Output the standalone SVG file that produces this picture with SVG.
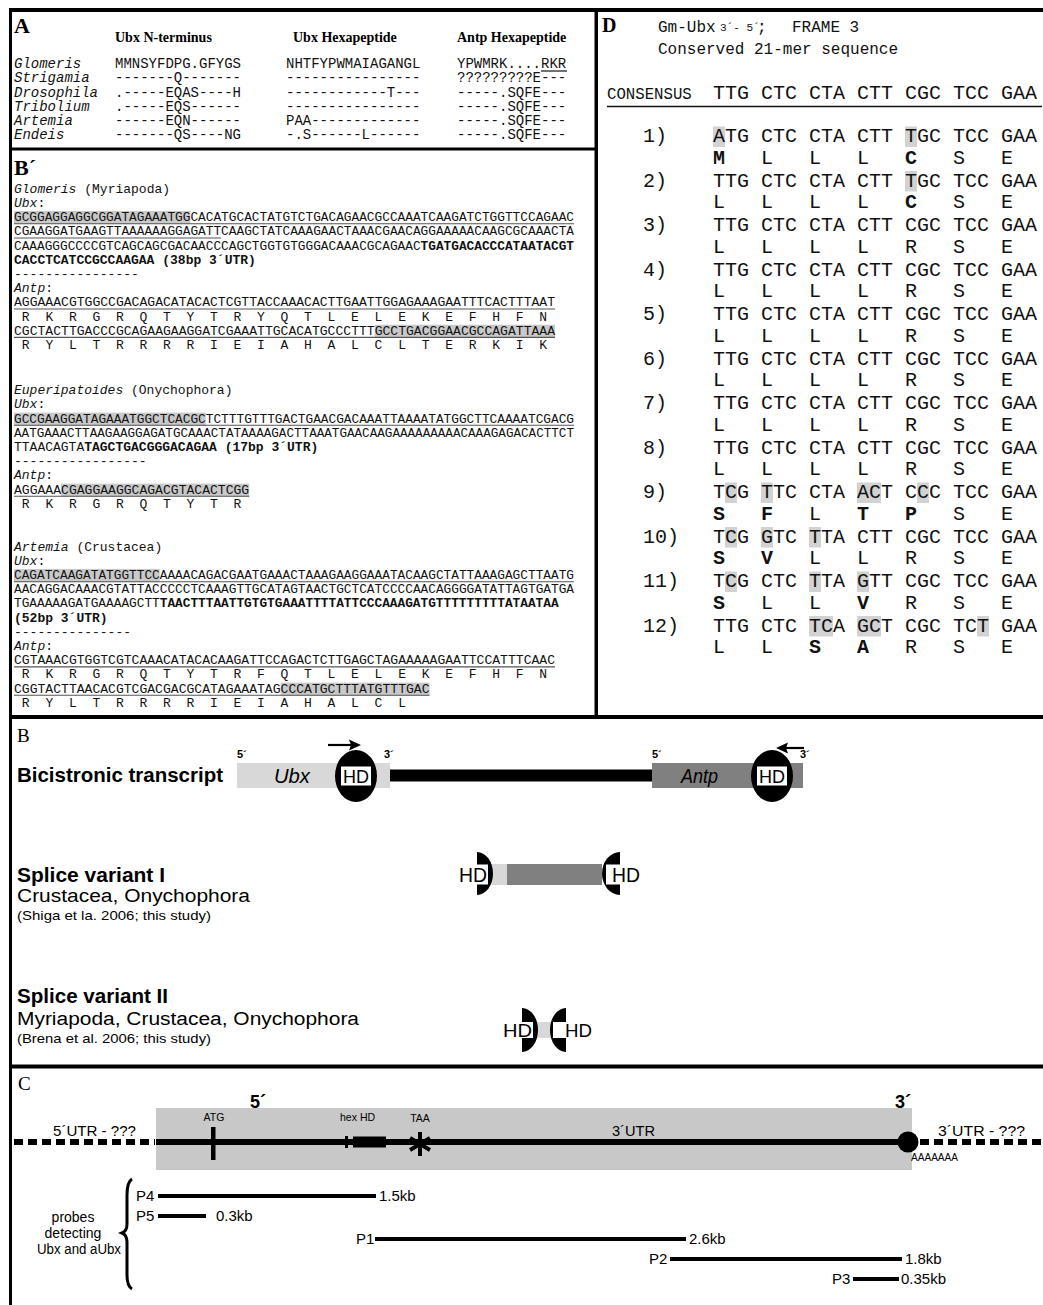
<svg xmlns="http://www.w3.org/2000/svg" width="1043" height="1305" viewBox="0 0 1043 1305">
<style>
.m{font-family:"Liberation Mono","DejaVu Sans Mono",monospace;fill:#111}
.ma{font-size:14px}
.mb{font-size:13px}
.md{font-size:20px}
.it{font-style:italic}
.b{font-weight:bold}
.sf{font-family:"Liberation Serif","Times New Roman",serif;fill:#000}
.ss{font-family:"Liberation Sans",Arial,sans-serif;fill:#000}
.hl{fill:#c9c9c9}
.hd{fill:#d2d2d2}
.ul{stroke:#555;stroke-width:1.1}
.pl{stroke:#000;stroke-width:4}
</style>
<rect width="1043" height="1305" fill="#fff"/>

<g id="panelA">
<text class="sf b" x="14" y="33" font-size="22">A</text>
<text class="sf b" x="115" y="41.5" font-size="14">Ubx N-terminus</text>
<text class="sf b" x="293" y="41.5" font-size="14">Ubx Hexapeptide</text>
<text class="sf b" x="457" y="41.5" font-size="14">Antp Hexapeptide</text>
<g class="m ma">
<text class="it" x="14" y="68">Glomeris</text>
<text class="it" x="14" y="82">Strigamia</text>
<text class="it" x="14" y="96.5">Drosophila</text>
<text class="it" x="14" y="110.5">Tribolium</text>
<text class="it" x="14" y="124.5">Artemia</text>
<text class="it" x="14" y="138.5">Endeis</text>
<text x="115" y="68">MMNSYFDPG.GFYGS</text>
<text x="115" y="82">-------Q-------</text>
<text x="115" y="96.5">.-----EQAS----H</text>
<text x="115" y="110.5">.-----EQS------</text>
<text x="115" y="124.5">------EQN------</text>
<text x="115" y="138.5">-------QS----NG</text>
<text x="286" y="68">NHTFYPWMAIAGANGL</text>
<text x="286" y="82">----------------</text>
<text x="286" y="96.5">------------T---</text>
<text x="286" y="110.5">----------------</text>
<text x="286" y="124.5">PAA-------------</text>
<text x="286" y="138.5">-.S------L------</text>
<text x="457" y="68">YPWMRK....RKR</text>
<text x="457" y="82">?????????E---</text>
<text x="457" y="96.5">-----.SQFE---</text>
<text x="457" y="110.5">-----.SQFE---</text>
<text x="457" y="124.5">-----.SQFE---</text>
<text x="457" y="138.5">-----.SQFE---</text>
</g>
<line x1="541" y1="71" x2="567" y2="71" stroke="#111" stroke-width="1.2"/>
</g>

<g id="panelBprime">
<text class="sf b" x="14" y="175" font-size="22">B´</text>
<rect class="hl" x="14" y="211" width="176.4" height="13"/>
<rect class="hl" x="374.6" y="324.7" width="180.4" height="13"/>
<rect class="hl" x="14" y="412.6" width="191.8" height="13"/>
<rect class="hl" x="61" y="483.6" width="188.2" height="13"/>
<rect class="hl" x="14" y="569" width="145.7" height="13"/>
<rect class="hl" x="280.6" y="682.6" width="148.9" height="13"/>
<g class="ul">
<line x1="14" y1="223.8" x2="574" y2="223.8"/>
<line x1="14" y1="238" x2="221" y2="238"/>
<line x1="14" y1="309" x2="555" y2="309"/>
<line x1="14" y1="337.4" x2="555" y2="337.4"/>
<line x1="14" y1="425.3" x2="574" y2="425.3"/>
<line x1="14" y1="496.3" x2="249.2" y2="496.3"/>
<line x1="14" y1="581.7" x2="574" y2="581.7"/>
<line x1="14" y1="666.9" x2="555" y2="666.9"/>
<line x1="14" y1="695.3" x2="429.5" y2="695.3"/>
</g>
<g class="m mb">
<text x="14" y="192.7"><tspan class="it">Glomeris</tspan> (Myriapoda)</text>
<text x="14" y="206.9"><tspan class="it">Ubx</tspan>:</text>
<text x="14" y="221.1" textLength="560" lengthAdjust="spacingAndGlyphs">GCGGAGGAGGCGGATAGAAATGGCACATGCACTATGTCTGACAGAACGCCAAATCAAGATCTGGTTCCAGAAC</text>
<text x="14" y="235.3" textLength="560" lengthAdjust="spacingAndGlyphs">CGAAGGATGAAGTTAAAAAAGGAGATTCAAGCTATCAAAGAACTAAACGAACAGGAAAAACAAGCGCAAACTA</text>
<text x="14" y="249.5" textLength="560" lengthAdjust="spacingAndGlyphs">CAAAGGGCCCCGTCAGCAGCGACAACCCAGCTGGTGTGGGACAAACGCAGAAC<tspan class="b">TGATGACACCCATAATACGT</tspan></text>
<text class="b" x="14" y="263.7">CACCTCATCCGCCAAGAA (38bp 3´UTR)</text>
<text x="14" y="277.9">----------------</text>
<text x="14" y="292.1"><tspan class="it">Antp</tspan>:</text>
<text x="14" y="306.3" textLength="541" lengthAdjust="spacingAndGlyphs">AGGAAACGTGGCCGACAGACATACACTCGTTACCAAACACTTGAATTGGAGAAAGAATTTCACTTTAAT</text>
<text x="21.8 45.4 68.9 92.4 115.9 139.4 163 186.5 210 233.5 257 280.6 304.1 327.6 351.1 374.6 398.2 421.7 445.2 468.7 492.2 515.8 539.3" y="320.5">RKRGRQTYTRYQTLELEKEFHFN</text>
<text x="14" y="334.7" textLength="541" lengthAdjust="spacingAndGlyphs">CGCTACTTGACCCGCAGAAGAAGGATCGAAATTGCACATGCCCTTTGCCTGACGGAACGCCAGATTAAA</text>
<text x="21.8 45.4 68.9 92.4 115.9 139.4 163 186.5 210 233.5 257 280.6 304.1 327.6 351.1 374.6 398.2 421.7 445.2 468.7 492.2 515.8 539.3" y="348.9">RYLTRRRRIEIAHALCLTERKIK</text>

<text x="14" y="394.2"><tspan class="it">Euperipatoides</tspan> (Onychophora)</text>
<text x="14" y="408.4"><tspan class="it">Ubx</tspan>:</text>
<text x="14" y="422.6" textLength="560" lengthAdjust="spacingAndGlyphs">GCCGAAGGATAGAAATGGCTCACGCTCTTTGTTTGACTGAACGACAAATTAAAATATGGCTTCAAAATCGACG</text>
<text x="14" y="436.8" textLength="560" lengthAdjust="spacingAndGlyphs">AATGAAACTTAAGAAGGAGATGCAAACTATAAAAGACTTAAATGAACAAGAAAAAAAAACAAAGAGACACTTCT</text>
<text x="14" y="451">TTAACAGTA<tspan class="b">TAGCTGACGGGACAGAA (17bp 3´UTR)</tspan></text>
<text x="14" y="465.2">-----------------</text>
<text x="14" y="479.4"><tspan class="it">Antp</tspan>:</text>
<text x="14" y="493.6" textLength="235.2" lengthAdjust="spacingAndGlyphs">AGGAAACGAGGAAGGCAGACGTACACTCGG</text>
<text x="21.8 45.4 68.9 92.4 115.9 139.4 163 186.5 210 233.5" y="507.8">RKRGRQTYTR</text>

<text x="14" y="550.6"><tspan class="it">Artemia</tspan> (Crustacea)</text>
<text x="14" y="564.8"><tspan class="it">Ubx</tspan>:</text>
<text x="14" y="579" textLength="560" lengthAdjust="spacingAndGlyphs">CAGATCAAGATATGGTTCCAAAACAGACGAATGAAACTAAAGAAGGAAATACAAGCTATTAAAGAGCTTAATG</text>
<text x="14" y="593.2" textLength="560" lengthAdjust="spacingAndGlyphs">AACAGGACAAACGTATTACCCCCTCAAAGTTGCATAGTAACTGCTCATCCCCAACAGGGGATATTAGTGATGA</text>
<text x="14" y="607.4" textLength="544.6" lengthAdjust="spacingAndGlyphs">TGAAAAAGATGAAAAGCTT<tspan class="b">TAACTTTAATTGTGTGAAATTTTATTCCCAAAGATGTTTTTTTTTATAATAA</tspan></text>
<text class="b" x="14" y="621.6">(52bp 3´UTR)</text>
<text x="14" y="635.8">---------------</text>
<text x="14" y="650"><tspan class="it">Antp</tspan>:</text>
<text x="14" y="664.2" textLength="541" lengthAdjust="spacingAndGlyphs">CGTAAACGTGGTCGTCAAACATACACAAGATTCCAGACTCTTGAGCTAGAAAAAGAATTCCATTTCAAC</text>
<text x="21.8 45.4 68.9 92.4 115.9 139.4 163 186.5 210 233.5 257 280.6 304.1 327.6 351.1 374.6 398.2 421.7 445.2 468.7 492.2 515.8 539.3" y="678.4">RKRGRQTYTRFQTLELEKEFHFN</text>
<text x="14" y="692.6" textLength="415.5" lengthAdjust="spacingAndGlyphs">CGGTACTTAACACGTCGACGACGCATAGAAATAGCCCATGCTTTATGTTTGAC</text>
<text x="21.8 45.4 68.9 92.4 115.9 139.4 163 186.5 210 233.5 257 280.6 304.1 327.6 351.1 374.6 398.2" y="706.8">RYLTRRRRIEIAHALCL</text>
</g>
</g>

<g id="panelD">
<text class="sf b" x="602" y="32" font-size="20">D</text>
<g class="m">
<text x="658" y="32" font-size="16">Gm-Ubx</text>
<text x="720" y="31" font-size="11">3´- 5´</text>
<text x="757" y="32" font-size="16">;</text>
<text x="792" y="32" font-size="16">FRAME 3</text>
<text x="658" y="54" font-size="16">Conserved 21-mer sequence</text>
<text x="607" y="99" font-size="15.7">CONSENSUS</text>
<text class="md" x="713" y="99">TTG CTC CTA CTT CGC TCC GAA</text>
</g>
<line x1="607" y1="106.5" x2="1042" y2="106.5" stroke="#111" stroke-width="1.5"/>
<g class="hd">
<rect x="713" y="126.5" width="12" height="20.5"/>
<rect x="905" y="126.5" width="12" height="20.5"/>
<rect x="905" y="171" width="12" height="20.5"/>
<rect x="725" y="482.5" width="12" height="20.5"/>
<rect x="761" y="482.5" width="12" height="20.5"/>
<rect x="857" y="482.5" width="24" height="20.5"/>
<rect x="917" y="482.5" width="12" height="20.5"/>
<rect x="725" y="527" width="12" height="20.5"/>
<rect x="761" y="527" width="12" height="20.5"/>
<rect x="809" y="527" width="12" height="20.5"/>
<rect x="725" y="571.5" width="12" height="20.5"/>
<rect x="809" y="571.5" width="12" height="20.5"/>
<rect x="857" y="571.5" width="12" height="20.5"/>
<rect x="809" y="616" width="24" height="20.5"/>
<rect x="857" y="616" width="24" height="20.5"/>
<rect x="977" y="616" width="12" height="20.5"/>
</g>
<g class="m md">
<text x="643" y="142">1)</text>
<text x="713" y="142">ATG CTC CTA CTT TGC TCC GAA</text>
<text y="163.5"><tspan class="b" x="713">M</tspan><tspan x="761">L</tspan><tspan x="809">L</tspan><tspan x="857">L</tspan><tspan class="b" x="905">C</tspan><tspan x="953">S</tspan><tspan x="1001">E</tspan></text>
<text x="643" y="186.5">2)</text>
<text x="713" y="186.5">TTG CTC CTA CTT TGC TCC GAA</text>
<text y="208"><tspan x="713">L</tspan><tspan x="761">L</tspan><tspan x="809">L</tspan><tspan x="857">L</tspan><tspan class="b" x="905">C</tspan><tspan x="953">S</tspan><tspan x="1001">E</tspan></text>
<text x="643" y="231">3)</text>
<text x="713" y="231">TTG CTC CTA CTT CGC TCC GAA</text>
<text x="713 761 809 857 905 953 1001" y="252.5">LLLLRSE</text>
<text x="643" y="275.5">4)</text>
<text x="713" y="275.5">TTG CTC CTA CTT CGC TCC GAA</text>
<text x="713 761 809 857 905 953 1001" y="297">LLLLRSE</text>
<text x="643" y="320">5)</text>
<text x="713" y="320">TTG CTC CTA CTT CGC TCC GAA</text>
<text x="713 761 809 857 905 953 1001" y="341.5">LLLLRSE</text>
<text x="643" y="364.5">6)</text>
<text x="713" y="364.5">TTG CTC CTA CTT CGC TCC GAA</text>
<text x="713 761 809 857 905 953 1001" y="386">LLLLRSE</text>
<text x="643" y="409">7)</text>
<text x="713" y="409">TTG CTC CTA CTT CGC TCC GAA</text>
<text x="713 761 809 857 905 953 1001" y="430.5">LLLLRSE</text>
<text x="643" y="453.5">8)</text>
<text x="713" y="453.5">TTG CTC CTA CTT CGC TCC GAA</text>
<text x="713 761 809 857 905 953 1001" y="475">LLLLRSE</text>
<text x="643" y="498">9)</text>
<text x="713" y="498">TCG TTC CTA ACT CCC TCC GAA</text>
<text y="519.5"><tspan class="b" x="713">S</tspan><tspan class="b" x="761">F</tspan><tspan x="809">L</tspan><tspan class="b" x="857">T</tspan><tspan class="b" x="905">P</tspan><tspan x="953">S</tspan><tspan x="1001">E</tspan></text>
<text x="643" y="542.5">10)</text>
<text x="713" y="542.5">TCG GTC TTA CTT CGC TCC GAA</text>
<text y="564"><tspan class="b" x="713">S</tspan><tspan class="b" x="761">V</tspan><tspan x="809">L</tspan><tspan x="857">L</tspan><tspan x="905">R</tspan><tspan x="953">S</tspan><tspan x="1001">E</tspan></text>
<text x="643" y="587">11)</text>
<text x="713" y="587">TCG CTC TTA GTT CGC TCC GAA</text>
<text y="608.5"><tspan class="b" x="713">S</tspan><tspan x="761">L</tspan><tspan x="809">L</tspan><tspan class="b" x="857">V</tspan><tspan x="905">R</tspan><tspan x="953">S</tspan><tspan x="1001">E</tspan></text>
<text x="643" y="631.5">12)</text>
<text x="713" y="631.5">TTG CTC TCA GCT CGC TCT GAA</text>
<text y="653"><tspan x="713">L</tspan><tspan x="761">L</tspan><tspan class="b" x="809">S</tspan><tspan class="b" x="857">A</tspan><tspan x="905">R</tspan><tspan x="953">S</tspan><tspan x="1001">E</tspan></text>
</g>
</g>

<g id="panelB">
<text class="sf" x="17" y="742" font-size="19">B</text>
<text class="ss b" x="17" y="782" font-size="21" textLength="206" lengthAdjust="spacingAndGlyphs">Bicistronic transcript</text>
<text class="ss b" x="17" y="882" font-size="21" textLength="148" lengthAdjust="spacingAndGlyphs">Splice variant I</text>
<text class="ss" x="17" y="902" font-size="18" textLength="233" lengthAdjust="spacingAndGlyphs">Crustacea, Onychophora</text>
<text class="ss" x="17" y="920" font-size="13" textLength="194" lengthAdjust="spacingAndGlyphs">(Shiga et la. 2006; this study)</text>
<text class="ss b" x="17" y="1003" font-size="21" textLength="151" lengthAdjust="spacingAndGlyphs">Splice variant II</text>
<text class="ss" x="17" y="1025" font-size="18" textLength="342" lengthAdjust="spacingAndGlyphs">Myriapoda, Crustacea, Onychophora</text>
<text class="ss" x="17" y="1043" font-size="13" textLength="194" lengthAdjust="spacingAndGlyphs">(Brena et al. 2006; this study)</text>

<g id="bicistronic">
<rect x="237" y="763" width="153" height="25" fill="#d8d8d8"/>
<rect x="390" y="769.5" width="262" height="12" fill="#000"/>
<rect x="652" y="763" width="151" height="25" fill="#808080"/>
<text class="ss it" x="274" y="783" font-size="20" textLength="36" lengthAdjust="spacingAndGlyphs">Ubx</text>
<text class="ss it" x="681" y="783" font-size="20" textLength="37" lengthAdjust="spacingAndGlyphs">Antp</text>
<ellipse cx="356" cy="776" rx="21" ry="26" fill="#000"/>
<rect x="341" y="766.5" width="30" height="19" fill="#fff"/>
<text class="ss" x="343" y="783" font-size="18" textLength="26" lengthAdjust="spacingAndGlyphs">HD</text>
<ellipse cx="772" cy="776" rx="21" ry="26" fill="#000"/>
<rect x="757" y="766.5" width="30" height="19" fill="#fff"/>
<text class="ss" x="759" y="783" font-size="18" textLength="26" lengthAdjust="spacingAndGlyphs">HD</text>
<g class="ss b" font-size="11">
<text x="237" y="758">5´</text>
<text x="384" y="758">3´</text>
<text x="652" y="758">5´</text>
<text x="800" y="758">3´</text>
</g>
</g>
<g id="variant1">
<rect x="489" y="864" width="20" height="21" fill="#d8d8d8"/>
<rect x="507" y="864" width="95" height="21" fill="#808080"/>
<path d="M477,852 A16,21.5 0 0 1 477,895 Z" fill="#000"/>
<rect x="455" y="864.5" width="33" height="20" fill="#fff"/>
<text class="ss" x="459" y="882" font-size="20" textLength="28" lengthAdjust="spacingAndGlyphs">HD</text>
<path d="M620,852 A18,21.5 0 0 0 620,895 Z" fill="#000"/>
<rect x="606" y="864.5" width="38" height="20" fill="#fff"/>
<text class="ss" x="612" y="882" font-size="20" textLength="28" lengthAdjust="spacingAndGlyphs">HD</text>
</g>
<g id="variant2">
<rect x="534" y="1022" width="18" height="16" fill="#d8d8d8"/>
<path d="M522,1008 A16,22 0 0 1 522,1052 Z" fill="#000"/>
<rect x="500" y="1022" width="33" height="16" fill="#fff"/>
<text class="ss" x="503" y="1037" font-size="18" textLength="29" lengthAdjust="spacingAndGlyphs">HD</text>
<path d="M566,1008 A16,22 0 0 0 566,1052 Z" fill="#000"/>
<rect x="553" y="1022" width="40" height="16" fill="#fff"/>
<text class="ss" x="565" y="1037" font-size="18" textLength="27" lengthAdjust="spacingAndGlyphs">HD</text>
</g>
</g>

<g id="connectors">
<line x1="328" y1="745" x2="352" y2="745" stroke="#000" stroke-width="2.2"/>
<path d="M361,745 L349,739.5 L351,745 L349,750.5 Z" fill="#000"/>
<line x1="804" y1="748" x2="785" y2="748" stroke="#000" stroke-width="2.2"/>
<path d="M776,748 L788,742.5 L786,748 L788,753.5 Z" fill="#000"/>
</g>

<g id="panelC">
<text class="sf" x="18" y="1090" font-size="19">C</text>
<rect x="156" y="1108" width="756" height="62" fill="#c8c8c8"/>
<text class="ss b" x="250" y="1108" font-size="18">5´</text>
<text class="ss b" x="895" y="1108" font-size="18">3´</text>
<line x1="156" y1="1142" x2="905" y2="1142" stroke="#000" stroke-width="6"/>
<line x1="14" y1="1142" x2="155" y2="1142" stroke="#000" stroke-width="6" stroke-dasharray="9 5"/>
<line x1="920" y1="1142" x2="1043" y2="1142" stroke="#000" stroke-width="6" stroke-dasharray="9 5"/>
<rect x="211" y="1127" width="4.5" height="33" fill="#000"/>
<rect x="345" y="1136" width="3" height="12" fill="#000"/>
<rect x="353" y="1136.5" width="33" height="11" fill="#000"/>
<g stroke="#000" stroke-width="4">
<line x1="420" y1="1132" x2="420" y2="1156"/>
<line x1="410" y1="1138" x2="430" y2="1150"/>
<line x1="410" y1="1150" x2="430" y2="1138"/>
</g>
<circle cx="908" cy="1142" r="10.5" fill="#000"/>
<g class="ss" font-size="10.5">
<text x="214" y="1121" text-anchor="middle">ATG</text>
<text x="340" y="1121">hex</text>
<text x="360" y="1121">HD</text>
<text x="420" y="1122" text-anchor="middle">TAA</text>
</g>
<text class="ss" x="911" y="1161" font-size="10" textLength="47" lengthAdjust="spacingAndGlyphs">AAAAAAA</text>
<g class="ss" font-size="15">
<text x="53" y="1136" textLength="83" lengthAdjust="spacingAndGlyphs">5´UTR - ???</text>
<text x="612" y="1136" textLength="43" lengthAdjust="spacingAndGlyphs">3´UTR</text>
<text x="938" y="1136" textLength="87" lengthAdjust="spacingAndGlyphs">3´UTR - ???</text>
<text x="136" y="1201">P4</text>
<text x="379" y="1201">1.5kb</text>
<text x="136" y="1221">P5</text>
<text x="216" y="1221">0.3kb</text>
<text x="356" y="1244">P1</text>
<text x="689" y="1244">2.6kb</text>
<text x="649" y="1264">P2</text>
<text x="905" y="1264">1.8kb</text>
<text x="832" y="1284">P3</text>
<text x="901" y="1284">0.35kb</text>
</g>
<g class="ss" font-size="14" text-anchor="middle">
<text x="73" y="1222">probes</text>
<text x="73" y="1238">detecting</text>
<text x="79" y="1254" textLength="84" lengthAdjust="spacingAndGlyphs">Ubx and aUbx</text>
</g>
<line class="pl" x1="158" y1="1196" x2="376" y2="1196"/>
<line class="pl" x1="158" y1="1216" x2="206" y2="1216"/>
<line class="pl" x1="375" y1="1239" x2="686" y2="1239"/>
<line class="pl" x1="670" y1="1259" x2="902" y2="1259"/>
<line class="pl" x1="853" y1="1279" x2="899" y2="1279"/>
<path d="M132,1179 Q127,1182 127,1195 L127,1224 Q127,1231 122,1233 Q127,1235 127,1242 L127,1275 Q127,1286 132,1289" fill="none" stroke="#000" stroke-width="3"/>
</g>

<g id="borders" fill="#000">
<rect x="9" y="8" width="1034" height="4"/>
<rect x="9" y="8" width="3" height="1297"/>
<rect x="9" y="147.5" width="587" height="3"/>
<rect x="594.5" y="8" width="3.5" height="711"/>
<rect x="9" y="715" width="1034" height="4"/>
<rect x="9" y="1064.5" width="1034" height="4"/>
</g>
</svg>
